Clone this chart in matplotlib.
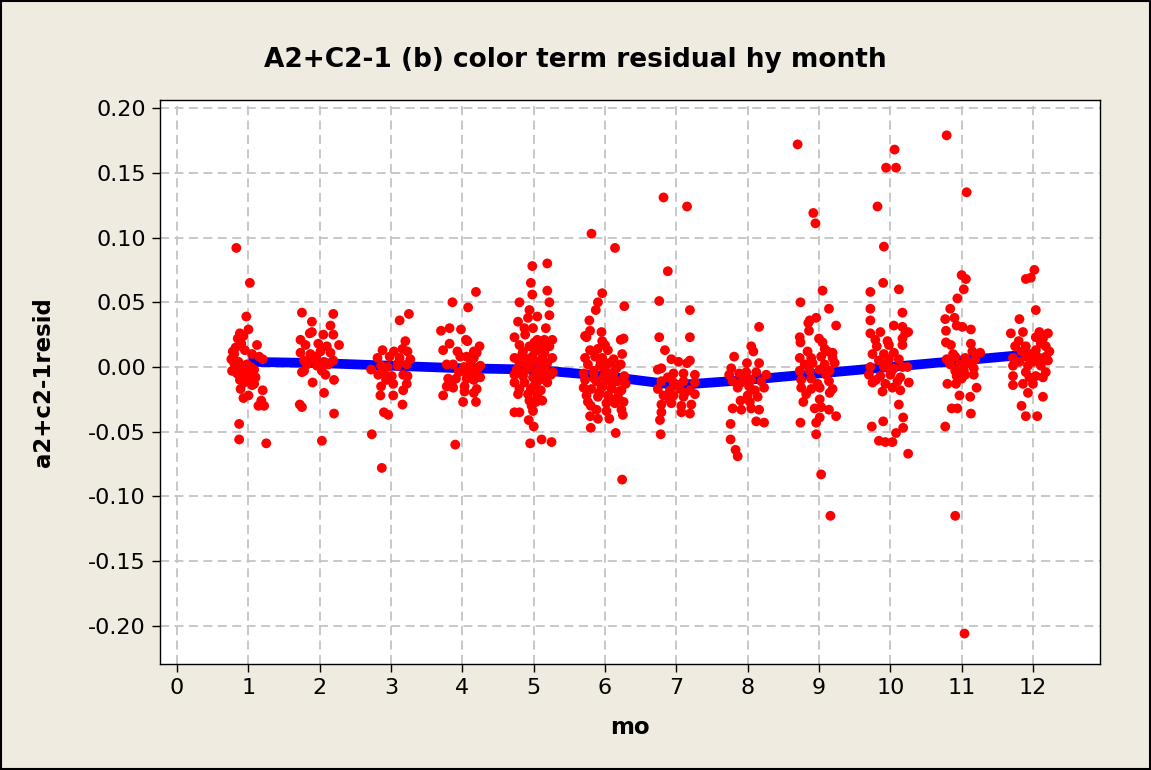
import matplotlib
matplotlib.use("Agg")
import matplotlib.pyplot as plt
from matplotlib.patches import Rectangle

# ---------------- data ----------------
months = [1, 2, 3, 4, 5, 6, 7, 8, 9, 10, 11, 12]
month_means = [0.004, 0.003, 0.001, -0.001, -0.002, -0.007, -0.014, -0.010, -0.005, 0.000, 0.005, 0.010]

m1_x = [0.83, 1.02, 0.97, 1.00, 0.88, 0.85, 0.93, 1.12, 0.78, 0.82, 0.90, 0.95, 1.05, 1.15, 1.20,
        0.76, 0.80, 0.86, 0.92, 0.98, 1.03, 1.08, 0.77, 0.84, 0.90, 0.96, 1.02, 1.10, 0.88, 0.94,
        1.05, 0.89, 1.08, 0.93, 1.00, 1.20, 1.14, 1.18, 1.22, 0.87, 0.87, 1.25, 0.80, 0.83, 1.00]
m1_y = [0.092, 0.065, 0.039, 0.029, 0.026, 0.022, 0.024, 0.017, 0.012, 0.015, 0.018, 0.013, 0.010, 0.008, 0.006,
        0.006, 0.003, 0.004, 0.001, 0.002, 0.000, -0.002, -0.003, -0.005, -0.006, -0.004, -0.007, -0.008, -0.010, -0.012,
        -0.014, -0.017, -0.013, -0.024, -0.022, -0.018, -0.030, -0.026, -0.030, -0.044, -0.056, -0.059, 0.010, 0.000, -0.010]

m2_x = [1.75, 2.19, 1.89, 2.15, 1.89, 1.86, 1.73, 2.05, 2.19, 1.80, 1.98, 2.10, 2.27, 1.73, 1.87,
        2.01, 2.15, 1.78, 1.92, 2.06, 2.19, 1.82, 1.96, 2.12, 1.78, 2.03, 1.75, 1.90, 2.20, 2.06,
        1.72, 1.75, 2.20, 2.03, 1.95, 2.08]
m2_y = [0.042, 0.041, 0.035, 0.032, 0.027, 0.026, 0.021, 0.025, 0.025, 0.017, 0.018, 0.016, 0.017, 0.011, 0.010,
        0.012, 0.011, 0.005, 0.006, 0.004, 0.005, 0.002, 0.001, 0.002, -0.003, -0.003, -0.004, -0.012, -0.010, -0.020,
        -0.029, -0.031, -0.036, -0.057, 0.008, -0.006]

m3_x = [3.25, 3.12, 3.20, 2.88, 3.04, 3.16, 3.23, 2.81, 2.98, 3.12, 3.27, 2.72, 2.86, 2.95, 3.09,
        3.22, 2.82, 2.90, 3.01, 3.17, 3.23, 3.03, 3.22, 2.86, 2.85, 3.03, 3.17, 3.16, 2.90, 2.96,
        2.73, 2.87, 3.10, 2.93]
m3_y = [0.041, 0.036, 0.020, 0.013, 0.012, 0.014, 0.012, 0.007, 0.008, 0.007, 0.006, -0.002, 0.001, 0.000, 0.001,
        0.002, -0.006, -0.005, -0.007, -0.006, -0.007, -0.013, -0.013, -0.015, -0.022, -0.022, -0.018, -0.029, -0.035, -0.037,
        -0.052, -0.078, 0.003, -0.010]

m4_x = [4.19, 3.86, 4.08, 3.70, 3.82, 3.98, 4.05, 4.07, 3.82, 3.73, 4.24, 3.93, 4.16, 4.20, 3.97,
        4.06, 4.16, 3.78, 3.87, 4.02, 4.09, 4.25, 4.22, 4.06, 4.16, 4.25, 3.80, 3.91, 4.06, 4.16,
        3.78, 3.87, 4.03, 4.20, 3.73, 4.03, 4.16, 4.01, 4.19, 3.90, 3.95, 4.12, 3.85]
m4_y = [0.058, 0.050, 0.046, 0.028, 0.030, 0.029, 0.021, 0.020, 0.018, 0.013, 0.016, 0.012, 0.012, 0.011, 0.008,
        0.008, 0.007, 0.002, 0.002, 0.000, 0.000, 0.001, -0.001, -0.005, -0.005, -0.008, -0.009, -0.009, -0.009, -0.010,
        -0.015, -0.016, -0.015, -0.017, -0.022, -0.019, -0.020, -0.027, -0.027, -0.060, -0.004, 0.004, -0.012]

m5_x = [4.98, 5.19, 4.96, 5.19, 4.98, 4.80, 5.22, 4.94, 4.78, 5.05, 5.22, 4.92, 4.99, 4.87, 5.17,
        4.73, 5.15, 5.26, 5.05, 4.80, 4.94, 5.10, 5.22, 4.85, 5.02, 5.15, 4.73, 4.87, 4.98, 5.12,
        5.26, 4.80, 4.94, 5.05, 5.19, 4.76, 4.90, 5.03, 5.15, 5.27, 4.73, 4.85, 4.99, 5.12, 5.24,
        4.73, 4.87, 5.03, 5.19, 4.80, 4.96, 5.10, 4.78, 4.92, 5.05, 4.94, 5.03, 5.12, 4.73, 4.80,
        4.99, 4.93, 5.00, 4.95, 5.11, 5.25, 4.90, 5.08, 5.00, 4.84, 5.14, 4.97,
        4.88, 5.07, 5.18, 4.83, 5.01, 4.91]
m5_y = [0.078, 0.080, 0.065, 0.059, 0.056, 0.050, 0.050, 0.044, 0.035, 0.039, 0.040, 0.038, 0.030, 0.030, 0.030,
        0.023, 0.021, 0.021, 0.021, 0.017, 0.016, 0.017, 0.016, 0.012, 0.012, 0.011, 0.007, 0.007, 0.008, 0.007,
        0.007, 0.003, 0.002, 0.004, 0.003, -0.002, -0.002, -0.003, -0.002, -0.004, -0.006, -0.007, -0.008, -0.007, -0.006,
        -0.012, -0.012, -0.013, -0.012, -0.017, -0.017, -0.018, -0.021, -0.021, -0.022, -0.026, -0.027, -0.026, -0.035, -0.035,
        -0.034, -0.041, -0.046, -0.059, -0.056, -0.058, 0.005, -0.010, -0.015, 0.010, 0.000, -0.030,
        0.025, 0.014, -0.009, -0.005, 0.019, 0.001]

m6_x = [6.14, 5.96, 5.90, 6.27, 5.87, 5.78, 5.79, 5.72, 5.74, 5.95, 6.26, 6.22, 5.96, 6.00, 5.79,
        5.90, 6.04, 6.24, 5.72, 5.86, 5.96, 6.12, 5.76, 5.93, 6.06, 6.22, 5.70, 5.84, 6.00, 6.12,
        6.27, 5.72, 5.88, 6.04, 6.18, 6.29, 5.70, 5.81, 5.95, 6.09, 6.23, 5.74, 5.90, 6.04, 6.18,
        5.76, 6.02, 6.14, 6.26, 5.88, 6.02, 6.23, 5.79, 5.90, 6.06, 6.25, 5.80, 6.15, 6.24, 5.84,
        5.98, 6.10, 5.92, 6.08, 5.80, 6.00, 6.16, 5.94, 5.81, 6.11, 5.97, 6.19, 5.85]
m6_y = [0.092, 0.057, 0.050, 0.047, 0.044, 0.036, 0.028, 0.024, 0.023, 0.027, 0.022, 0.021, 0.020, 0.017, 0.013,
        0.014, 0.013, 0.010, 0.007, 0.008, 0.007, 0.006, 0.002, 0.001, 0.003, 0.002, -0.005, -0.004, -0.005, -0.004,
        -0.007, -0.010, -0.011, -0.010, -0.011, -0.013, -0.016, -0.017, -0.016, -0.017, -0.018, -0.022, -0.023, -0.022, -0.023,
        -0.027, -0.028, -0.028, -0.027, -0.033, -0.034, -0.033, -0.038, -0.040, -0.040, -0.037, -0.047, -0.051, -0.087, -0.003,
        -0.008, -0.013, -0.020, -0.025, -0.030, -0.002, -0.001, 0.004, 0.103, -0.006, -0.015, -0.019, -0.009]

m7_x = [6.82, 7.15, 6.88, 6.76, 7.19, 6.76, 7.19, 6.84, 6.93, 7.03, 7.19, 7.15, 6.79, 6.74, 6.96,
        7.10, 7.26, 6.79, 6.96, 7.10, 7.26, 6.74, 6.91, 7.05, 7.19, 6.82, 6.96, 7.10, 7.26, 6.79,
        6.93, 7.07, 7.21, 6.79, 7.07, 7.19, 6.77, 6.78, 6.88, 7.02, 7.12, 6.90]
m7_y = [0.131, 0.124, 0.074, 0.051, 0.044, 0.023, 0.023, 0.013, 0.006, 0.004, 0.005, 0.003, -0.001, -0.002, -0.005,
        -0.005, -0.006, -0.011, -0.012, -0.011, -0.012, -0.017, -0.018, -0.017, -0.018, -0.022, -0.022, -0.023, -0.021, -0.029,
        -0.028, -0.030, -0.029, -0.035, -0.035, -0.036, -0.041, -0.052, -0.008, -0.014, -0.020, -0.025]

m8_x = [8.16, 8.05, 8.08, 7.81, 7.99, 8.16, 7.77, 7.74, 7.88, 7.98, 8.12, 8.26, 7.79, 7.91, 8.05,
        8.19, 7.86, 8.02, 8.23, 8.00, 8.14, 7.79, 7.91, 8.05, 8.16, 8.12, 8.23, 7.76, 7.76, 7.83,
        7.86, 7.95, 8.10, 7.90, 8.03]
m8_y = [0.031, 0.016, 0.012, 0.008, 0.003, 0.003, -0.001, -0.006, -0.005, -0.004, -0.004, -0.006, -0.011, -0.012, -0.010,
        -0.011, -0.016, -0.015, -0.016, -0.022, -0.023, -0.032, -0.033, -0.032, -0.033, -0.042, -0.043, -0.044, -0.056, -0.064,
        -0.069, -0.008, -0.018, -0.026, -0.027]

m9_x = [8.70, 8.92, 8.95, 9.05, 9.03, 9.16, 8.74, 8.96, 8.87, 8.85, 9.14, 9.24, 8.73, 8.74, 9.00,
        9.05, 9.08, 9.12, 9.19, 8.73, 8.89, 9.03, 9.19, 8.80, 8.91, 9.08, 9.22, 8.73, 8.87, 9.01,
        9.15, 8.75, 8.89, 9.14, 8.75, 8.89, 9.01, 9.19, 8.82, 9.15, 8.78, 9.01, 8.94, 9.03, 9.14,
        9.24, 9.01, 8.74, 8.96, 8.96, 8.84, 9.10, 8.98, 8.86]
m9_y = [0.172, 0.119, 0.111, 0.059, -0.083, -0.115, 0.050, 0.038, 0.036, 0.034, 0.045, 0.032, 0.023, 0.019, 0.022,
        0.019, 0.014, 0.012, 0.011, 0.007, 0.007, 0.008, 0.007, 0.002, 0.003, 0.002, 0.003, -0.003, -0.003, -0.002,
        -0.003, -0.010, -0.009, -0.011, -0.016, -0.017, -0.016, -0.017, -0.021, -0.020, -0.027, -0.025, -0.032, -0.031, -0.033,
        -0.038, -0.039, -0.043, -0.043, -0.052, 0.012, -0.006, -0.013, 0.028]

m10_x = [10.06, 9.94, 10.08, 9.82, 9.91, 9.90, 9.72, 10.12, 9.72, 10.17, 9.72, 10.05, 10.17, 9.72, 9.86,
         10.21, 10.25, 9.79, 9.96, 10.17, 9.81, 9.98, 10.17, 9.91, 10.05, 9.75, 9.84, 9.98, 10.12, 10.24,
         9.72, 9.91, 10.05, 10.17, 9.70, 9.86, 10.00, 10.14, 9.75, 9.93, 10.10, 10.26, 9.89, 10.03, 10.14,
         10.12, 10.18, 9.90, 9.74, 10.18, 9.84, 9.93, 10.03, 10.08, 10.25, 9.95, 10.02, 9.80]
m10_y = [0.168, 0.154, 0.154, 0.124, 0.093, 0.065, 0.058, 0.060, 0.045, 0.042, 0.036, 0.032, 0.031, 0.026, 0.027,
         0.026, 0.027, 0.021, 0.020, 0.022, 0.016, 0.017, 0.017, 0.010, 0.011, 0.010, 0.005, 0.006, 0.006, 0.000,
         0.000, 0.000, -0.001, 0.000, -0.006, -0.007, -0.006, -0.008, -0.012, -0.013, -0.011, -0.012, -0.019, -0.016, -0.018,
         -0.029, -0.039, -0.042, -0.046, -0.047, -0.057, -0.058, -0.058, -0.051, -0.067, 0.003, -0.003, -0.010]

m11_x = [10.79, 11.07, 10.91, 11.04, 11.00, 11.06, 11.03, 10.94, 10.84, 10.77, 10.90, 10.93, 10.78, 11.01, 11.13,
         10.78, 10.85, 11.13, 11.15, 11.26, 10.79, 10.91, 11.05, 11.19, 10.84, 10.98, 11.10, 10.91, 11.03, 11.17,
         10.93, 11.05, 11.17, 10.80, 10.92, 11.00, 11.21, 10.97, 11.12, 10.86, 10.94, 11.13, 10.77, 11.00, 10.88]
m11_y = [0.179, 0.135, -0.115, -0.206, 0.071, 0.068, 0.060, 0.053, 0.045, 0.037, 0.038, 0.032, 0.028, 0.031, 0.029,
         0.019, 0.017, 0.018, 0.012, 0.011, 0.006, 0.008, 0.007, 0.006, 0.002, 0.002, 0.003, -0.003, -0.002, -0.001,
         -0.007, -0.006, -0.006, -0.013, -0.013, -0.009, -0.016, -0.022, -0.023, -0.032, -0.032, -0.036, -0.046, -0.002, 0.010]

m12_x = [12.02, 11.97, 11.90, 12.04, 11.81, 11.69, 12.09, 12.21, 11.86, 12.04, 12.14, 11.75, 11.90, 12.18, 12.11,
         11.84, 12.04, 12.23, 11.72, 11.90, 12.09, 12.18, 11.81, 12.00, 12.21, 11.72, 11.93, 12.11, 11.90, 12.18,
         11.72, 12.04, 12.14, 12.00, 11.86, 11.72, 11.93, 12.14, 11.84, 11.90, 12.06, 11.98, 12.10, 11.80, 11.95]
m12_y = [0.075, 0.069, 0.068, 0.044, 0.037, 0.026, 0.027, 0.026, 0.027, 0.023, 0.022, 0.016, 0.016, 0.016, 0.018,
         0.012, 0.013, 0.012, 0.007, 0.008, 0.007, 0.008, 0.004, 0.004, 0.005, 0.001, 0.001, 0.001, -0.004, -0.004,
         -0.007, -0.007, -0.008, -0.013, -0.013, -0.014, -0.020, -0.023, -0.030, -0.038, -0.038, 0.010, 0.003, 0.020, -0.008]

points_x = [m1_x, m2_x, m3_x, m4_x, m5_x, m6_x, m7_x, m8_x, m9_x, m10_x, m11_x, m12_x]
points_y = [m1_y, m2_y, m3_y, m4_y, m5_y, m6_y, m7_y, m8_y, m9_y, m10_y, m11_y, m12_y]

x_ticks = list(range(0, 13))
y_ticks = [-0.20, -0.15, -0.10, -0.05, 0.00, 0.05, 0.10, 0.15, 0.20]

title = "A2+C2-1 (b) color term residual hy month"
x_label = "mo"
y_label = "a2+c2-1resid"

# ---------------- figure ----------------
W, H, DPI = 1151, 770, 100
bg = "#EFEBE0"
fig = plt.figure(figsize=(W / DPI, H / DPI), dpi=DPI, facecolor=bg)
ax = fig.add_axes([160 / W, 1 - 664 / H, (1100 - 160) / W, (664 - 100) / H])
ax.set_facecolor("white")

ax.plot(months, month_means, color="#0000FF", lw=7, solid_capstyle="butt", zorder=2)
for xs, ys in zip(points_x, points_y):
    ax.scatter(xs, ys, s=50, color="#FF0000", edgecolors="none", zorder=3)

ax.set_xlim(-0.24, 12.94)
ax.set_ylim(-0.2295, 0.2063)
ax.set_xticks(x_ticks)
ax.set_yticks(y_ticks)
ax.set_yticklabels([f"{v:.2f}" for v in y_ticks])
ax.grid(True, color="#C4C4C4", linestyle=(0, (5, 3)), linewidth=1.3, zorder=0)
ax.set_axisbelow(True)
for sp in ax.spines.values():
    sp.set_color("black")
    sp.set_linewidth(1.0)
ax.tick_params(direction="out", length=6, width=1, labelsize=16, pad=4)

ax.set_xlabel(x_label, fontsize=16.5, fontweight="bold")
ax.set_ylabel(y_label, fontsize=16.5, fontweight="bold")
ax.xaxis.set_label_coords(0.5, -0.092)
ax.yaxis.set_label_coords(-0.112, 0.5)

fig.text(0.5, 1 - 60 / H, title, ha="center", va="center", fontsize=19, fontweight="bold")

fig.patches.append(Rectangle((0.001, 0.001), 0.998, 0.998, transform=fig.transFigure,
                             fill=False, edgecolor="black", linewidth=1.5))

fig.savefig("out.png", dpi=DPI, facecolor=bg)
